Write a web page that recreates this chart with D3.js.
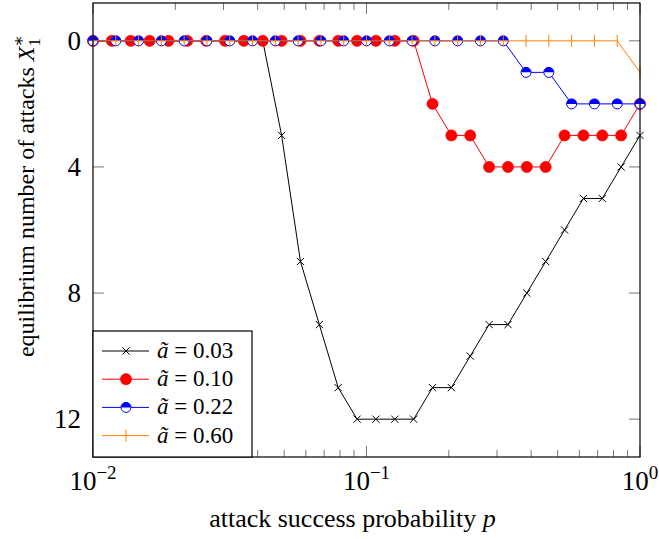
<!DOCTYPE html>
<html>
<head>
<meta charset="utf-8">
<script src="https://cdn.jsdelivr.net/npm/d3@7"></script>
<style>
  html, body { margin: 0; padding: 0; background: #fff; }
  svg { display: block; font-family: "Liberation Serif", "DejaVu Serif", serif; }
</style>
</head>
<body>
<svg id="chart" width="659" height="539"></svg>
<script>
// p grid for the a=0.03 and a=0.10 runs (30 points, log spaced)
const pFine = [0.01, 0.011721, 0.013738, 0.016103, 0.018874, 0.022122, 0.025929, 0.030392,
  0.035622, 0.041753, 0.048939, 0.057362, 0.067234, 0.078805, 0.092367, 0.10826, 0.12690,
  0.14874, 0.17433, 0.20434, 0.23950, 0.28072, 0.32903, 0.38566, 0.45204, 0.52983, 0.62102,
  0.72790, 0.85317, 1];
// p grid for the a=0.22 and a=0.60 runs (25 points)
const pCoarse = [0.01, 0.012115, 0.014678, 0.017783, 0.021544, 0.026102, 0.031623, 0.038312,
  0.046416, 0.056234, 0.068129, 0.082540, 0.1, 0.12115, 0.14678, 0.17783, 0.21544, 0.26102,
  0.31623, 0.38312, 0.46416, 0.56234, 0.68129, 0.82540, 1];

const x003 = [0, 0, 0, 0, 0, 0, 0, 0, 0, 0, 3, 7, 9, 11, 12, 12, 12, 12, 11, 11, 10, 9, 9, 8, 7, 6, 5, 5, 4, 3];
const x010 = [0, 0, 0, 0, 0, 0, 0, 0, 0, 0, 0, 0, 0, 0, 0, 0, 0, 0, 2, 3, 3, 4, 4, 4, 4, 3, 3, 3, 3, 2];
const x022 = [0, 0, 0, 0, 0, 0, 0, 0, 0, 0, 0, 0, 0, 0, 0, 0, 0, 0, 0, 1, 1, 2, 2, 2, 2];
const x060 = [0, 0, 0, 0, 0, 0, 0, 0, 0, 0, 0, 0, 0, 0, 0, 0, 0, 0, 0, 0, 0, 0, 0, 0, 1];

const legendLabels = ["0.03", "0.10", "0.22", "0.60"];
const yTicks = [0, 4, 8, 12];
const xMajor = [0.01, 0.1, 1];
const xExp = ["\u22122", "\u22121", "0"];

const svg = d3.select("#chart");
const L = 93, R = 640, T = 3, B = 457;

const x = d3.scaleLog().domain([0.01, 1]).range([L, R]);
const y = d3.scaleLinear().domain([-1.2, 13.2]).range([T, B]);

const series = [
  { p: pFine, v: x003, color: "#000", marker: "cross" },
  { p: pFine, v: x010, color: "#ff0000", marker: "dot" },
  { p: pCoarse, v: x022, color: "#0000ff", marker: "half" },
  { p: pCoarse, v: x060, color: "#ff8000", marker: "bar" }
];

// markers
function drawMarker(g, type, color) {
  if (type === "cross") {
    g.append("path").attr("d", "M-3.6,-3.6L3.6,3.6M-3.6,3.6L3.6,-3.6")
      .attr("stroke", color).attr("stroke-width", 1).attr("fill", "none");
  } else if (type === "dot") {
    g.append("circle").attr("r", 5.6).attr("fill", color).attr("stroke", color).attr("stroke-width", 0.6);
  } else if (type === "half") {
    const r = 5;
    g.append("circle").attr("r", r).attr("fill", "#fff");
    g.append("path").attr("d", `M${-r},0A${r},${r} 0 0 1 ${r},0Z`).attr("fill", color);
    g.append("circle").attr("r", r).attr("fill", "none").attr("stroke", color).attr("stroke-width", 1);
  } else if (type === "bar") {
    g.append("path").attr("d", "M0,-6L0,6").attr("stroke", color).attr("stroke-width", 1);
  }
}

// ticks (inward, both sides)
const tickG = svg.append("g").attr("stroke", "#777").attr("stroke-width", 1);
const minor = [];
[0.01, 0.1].forEach(d => { for (let k = 2; k <= 9; k++) minor.push(d * k); });
minor.forEach(v => {
  tickG.append("line").attr("x1", x(v)).attr("x2", x(v)).attr("y1", B).attr("y2", B - 7);
  tickG.append("line").attr("x1", x(v)).attr("x2", x(v)).attr("y1", T).attr("y2", T + 7);
});
xMajor.forEach(v => {
  tickG.append("line").attr("x1", x(v)).attr("x2", x(v)).attr("y1", B).attr("y2", B - 11);
  tickG.append("line").attr("x1", x(v)).attr("x2", x(v)).attr("y1", T).attr("y2", T + 11);
});
yTicks.forEach(v => {
  tickG.append("line").attr("x1", L).attr("x2", L + 11).attr("y1", y(v)).attr("y2", y(v));
  tickG.append("line").attr("x1", R).attr("x2", R - 11).attr("y1", y(v)).attr("y2", y(v));
});

// lines + markers
const line = d3.line().x(d => x(d[0])).y(d => y(d[1]));
series.forEach(s => {
  const pts = s.p.map((p, i) => [p, s.v[i]]);
  svg.append("path").datum(pts).attr("d", line)
    .attr("fill", "none").attr("stroke", s.color).attr("stroke-width", 1);
  pts.forEach(d => {
    const g = svg.append("g").attr("transform", `translate(${x(d[0])},${y(d[1])})`);
    drawMarker(g, s.marker, s.color);
  });
});

// frame
svg.append("rect").attr("x", L).attr("y", T).attr("width", R - L).attr("height", B - T)
  .attr("fill", "none").attr("stroke", "#000").attr("stroke-width", 1.2);

// tick labels
yTicks.forEach(v => {
  svg.append("text").attr("x", 81).attr("y", y(v) + 9).attr("text-anchor", "end")
    .style("font-size", "27px").text(v);
});
xMajor.forEach((v, i) => {
  const t = svg.append("text").attr("x", x(v)).attr("y", 490).attr("text-anchor", "middle")
    .style("font-size", "27px");
  t.append("tspan").text("10");
  t.append("tspan").attr("dy", -11).style("font-size", "19px").text(xExp[i]);
});

// axis titles
const xt = svg.append("text").attr("x", (L + R) / 2 - 14).attr("y", 527).attr("text-anchor", "middle")
  .style("font-size", "26px");
xt.append("tspan").text("attack success probability ");
xt.append("tspan").style("font-style", "italic").text("p");

const yt = svg.append("text").attr("transform", "translate(34,196) rotate(-90)")
  .attr("text-anchor", "middle").style("font-size", "24px");
yt.append("tspan").text("equilibrium number of attacks ");
yt.append("tspan").style("font-style", "italic").text("X");
yt.append("tspan").attr("dy", 6).style("font-size", "17px").text("1");
yt.append("tspan").attr("dx", -8.5).attr("dy", -16).style("font-size", "17px").text("\u2217");

// legend
const lg = svg.append("g");
lg.append("rect").attr("x", 93).attr("y", 331).attr("width", 159).attr("height", 126)
  .attr("fill", "#fff").attr("stroke", "#000").attr("stroke-width", 1.2);
series.forEach((s, i) => {
  const cy = 351 + i * 28.2;
  lg.append("line").attr("x1", 102).attr("x2", 149).attr("y1", cy).attr("y2", cy)
    .attr("stroke", s.color).attr("stroke-width", 1);
  const g = lg.append("g").attr("transform", `translate(126,${cy})`);
  drawMarker(g, s.marker, s.color);
  const t = lg.append("text").attr("x", 157).attr("y", cy + 7).style("font-size", "23px");
  t.append("tspan").style("font-style", "italic").text("\u00e3");
  t.append("tspan").text(" = " + legendLabels[i]);
});
</script>
</body>
</html>
